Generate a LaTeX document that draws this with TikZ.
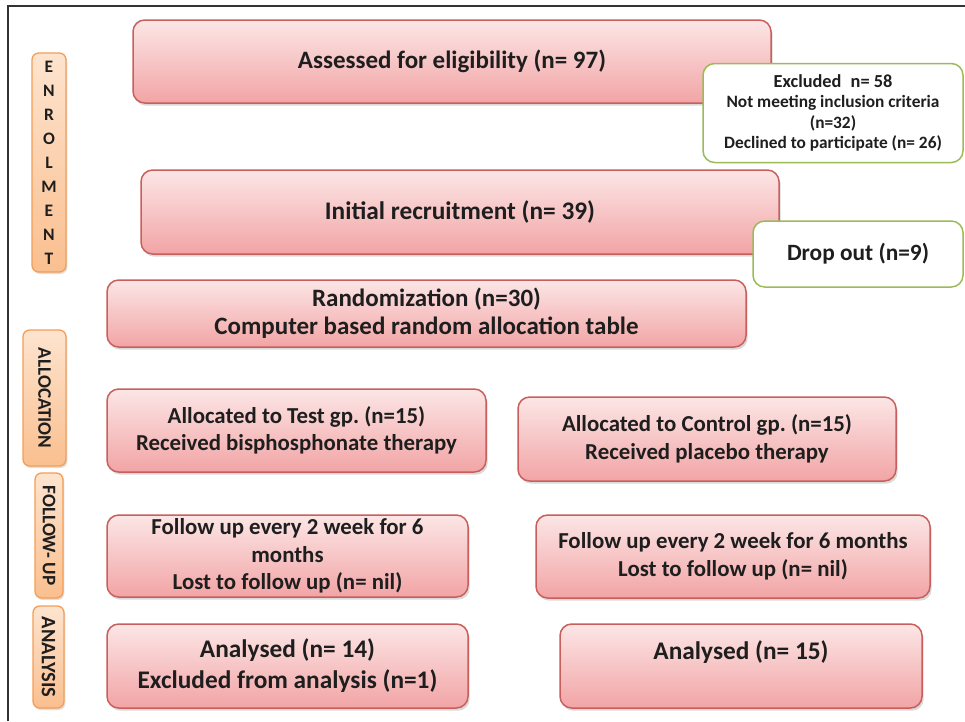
\documentclass[tikz,border=0pt]{standalone}
\usepackage{fontspec}
\setmainfont{Carlito}
\usetikzlibrary{shadows}

\definecolor{pinkline}{HTML}{C95F5C}
\definecolor{pinktop}{HTML}{FCE6E6}
\definecolor{pinkbot}{HTML}{F2A4A5}
\definecolor{greenline}{HTML}{9BBB59}
\definecolor{orangeline}{HTML}{F59D56}
\definecolor{orangetop}{HTML}{FDE4CF}
\definecolor{orangebot}{HTML}{FABF8F}
\definecolor{inktext}{HTML}{1E1E1E}

\tikzset{
  pinkbox/.style={draw=pinkline, line width=0.9pt, rounded corners=7pt,
    top color=pinktop, bottom color=pinkbot, text=inktext,
    drop shadow={shadow xshift=1pt, shadow yshift=-1.6pt, opacity=0.3},
    align=center, inner sep=0pt, font=\bfseries\fontsize{13.7}{16.5}\selectfont},
  greenbox/.style={draw=greenline, line width=0.9pt, rounded corners=7pt,
    fill=white, text=inktext, align=center, inner sep=0pt},
  sidebox/.style={draw=orangeline, line width=0.8pt, rounded corners=4pt,
    top color=orangetop, bottom color=orangebot, text=inktext,
    drop shadow={shadow xshift=0.8pt, shadow yshift=-1.2pt, opacity=0.25},
    align=center, inner sep=0pt},
  sidetext/.style={rotate=-90, text=inktext, font=\bfseries\fontsize{11.5}{12}\selectfont}
}

\begin{document}
\begin{tikzpicture}[x=0.6pt,y=-0.6pt]
\useasboundingbox (0,0) rectangle (965,721);
\draw[line width=1.2pt, black!80] (8,721) -- (8,6) -- (965,6);

% side labels
\node[sidebox, minimum width=34*0.6pt, minimum height=219*0.6pt,
  font=\bfseries\fontsize{10.5}{14.4}\selectfont] (enrol) at (49,162.5)
  {E\\N\\R\\O\\L\\M\\E\\N\\T};
\node[sidebox, minimum width=43*0.6pt, minimum height=136*0.6pt] (alloc) at (44.5,398) {};
\node[sidetext] at (alloc.center) {ALLOCATION};
\node[sidebox, minimum width=28*0.6pt, minimum height=125*0.6pt] (follow) at (49,535.5) {};
\node[sidetext] at (follow.center) {FOLLOW- UP};
\node[sidebox, minimum width=31*0.6pt, minimum height=102*0.6pt] (analysis) at (48.5,657) {};
\node[sidetext, font=\bfseries\fontsize{12.3}{12}\selectfont] at (analysis.center) {ANALYSIS};

% enrolment
\node[pinkbox, minimum width=638*0.6pt, minimum height=83*0.6pt,
  font=\bfseries\fontsize{15}{17}\selectfont] (assess) at (452,61.5)
  {Assessed for eligibility (n= 97)};
\node[greenbox, minimum width=260*0.6pt, minimum height=99*0.6pt,
  font=\bfseries\fontsize{10.4}{12.3}\selectfont] (excl) at (833,113)
  {{\fontsize{11}{12.3}\selectfont Excluded\enspace n= 58}\\Not meeting inclusion criteria\\(n=32)\\Declined to participate (n= 26)};
\node[pinkbox, minimum width=638*0.6pt, minimum height=84*0.6pt,
  font=\bfseries\fontsize{15.2}{17}\selectfont] (recruit) at (460,212)
  {Initial recruitment (n= 39)};
\node[greenbox, minimum width=210*0.6pt, minimum height=66*0.6pt,
  font=\bfseries\fontsize{14}{16}\selectfont] (drop) at (858,254)
  {Drop out (n=9)};
\node[pinkbox, minimum width=639*0.6pt, minimum height=67*0.6pt,
  font=\bfseries\fontsize{15}{16.8}\selectfont] (random) at (426.5,313.5)
  {Randomization (n=30)\\Computer based random allocation table};

% allocation
\node[pinkbox, minimum width=379*0.6pt, minimum height=83*0.6pt] (testgp) at (296.5,430.5)
  {Allocated to Test gp.\ (n=15)\\Received bisphosphonate therapy};
\node[pinkbox, minimum width=378*0.6pt, minimum height=84*0.6pt] (ctrlgp) at (707,439)
  {Allocated to Control gp.\ (n=15)\\Received placebo therapy};

% follow up
\node[pinkbox, minimum width=361*0.6pt, minimum height=82*0.6pt] (testfu) at (287.5,556)
  {Follow up every 2 week for 6\\months\\Lost to follow up (n= nil)};
\node[pinkbox, minimum width=394*0.6pt, minimum height=83*0.6pt] (ctrlfu) at (733,556.5)
  {Follow up every 2 week for 6 months\\Lost to follow up (n= nil)};

% analysis
\node[pinkbox, minimum width=361*0.6pt, minimum height=84*0.6pt,
  font=\bfseries\fontsize{15.2}{18.6}\selectfont] (testan) at (287.5,666)
  {Analysed (n= 14)\\Excluded from analysis (n=1)};
\node[pinkbox, minimum width=362*0.6pt, minimum height=84*0.6pt,
  font=\bfseries\fontsize{15.2}{18.6}\selectfont] (ctrlan) at (741,666)
  {Analysed (n= 15)\\\phantom{X}};

\end{tikzpicture}
\end{document}
